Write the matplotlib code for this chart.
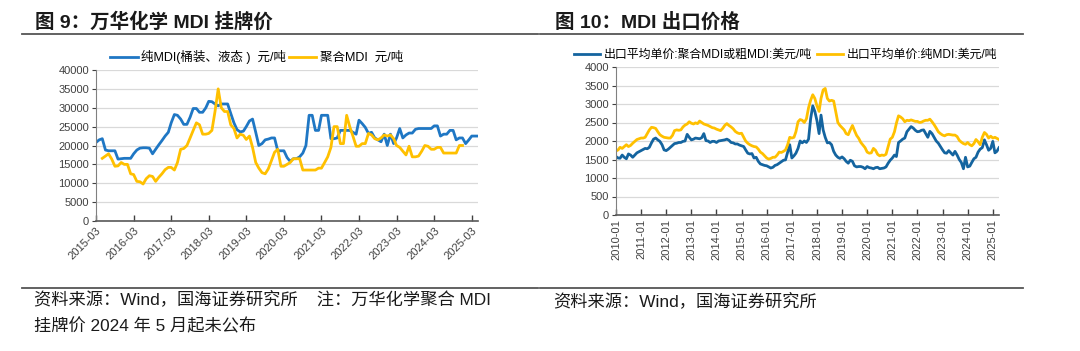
import matplotlib
matplotlib.use("Agg")
import matplotlib.pyplot as plt
from matplotlib.lines import Line2D
import numpy as np
import pandas as pd

plt.rcParams['font.family'] = ['Liberation Sans', 'Noto Sans CJK SC']
plt.rcParams['axes.unicode_minus'] = False

# 图9: 万华化学 MDI 挂牌价 (千元/吨), 月度
pure_start = "2015-03"
pure_mdi = [20.8, 21.5, 21.8, 18.8, 18.6, 18.6, 18.6, 16.4, 16.5, 16.6, 16.6, 16.6,
            17.8, 18.8, 19.3, 19.4, 19.4, 19.3, 17.8, 19.0, 20.2, 21.3, 22.5, 23.5,
            26.0, 28.2, 28.0, 27.0, 25.6, 25.6, 27.5, 29.8, 29.8, 28.8, 28.8, 30.0,
            31.7, 31.6, 31.0, 30.5, 31.0, 31.0, 31.0, 28.5, 26.0, 24.2, 23.6, 23.8,
            25.0, 26.5, 27.0, 23.5, 20.0, 20.5, 21.5, 21.7, 22.0, 22.0, 18.6, 18.6,
            18.6, 16.8, 15.8, 16.5, 16.5, 17.0, 18.0, 20.0, 28.0, 28.0, 24.0, 24.0,
            28.0, 28.0, 28.0, 21.8, 21.8, 22.0, 24.0, 24.0, 24.0, 24.0, 23.5, 23.0,
            26.7, 25.8, 24.8, 23.2, 23.5, 22.0, 21.5, 21.0, 23.0, 20.0, 23.0, 20.5,
            22.0, 24.5, 22.0, 22.8, 23.3, 23.3, 24.3, 24.5, 24.5, 24.5, 24.5, 24.5,
            25.2, 25.2, 22.5, 23.0, 23.0, 24.0, 24.0, 21.5, 22.0, 22.0, 20.5, 21.5,
            22.5, 22.5, 22.5]
poly_start = "2015-05"
poly_mdi = [16.6, 17.2, 17.8, 16.4, 14.5, 14.6, 15.5, 15.0, 15.0, 12.5,
            12.3, 10.5, 10.4, 9.8, 11.2, 12.0, 11.8, 10.5, 11.6, 12.5, 13.6, 14.2,
            14.2, 13.5, 15.5, 19.0, 19.2, 20.0, 22.0, 24.0, 26.0, 25.5, 23.0, 23.0,
            23.2, 24.0, 29.0, 35.0, 30.0, 29.0, 29.0, 25.5, 24.5, 22.0, 23.0, 22.7,
            21.6, 22.5, 19.5, 15.5, 14.0, 12.8, 12.5, 13.8, 16.0, 18.2, 19.0, 14.5,
            14.5, 15.0, 15.5, 16.5, 16.5, 16.5, 13.5, 13.5, 13.5, 13.5, 13.5, 14.0,
            14.0, 15.5, 17.0, 19.5, 25.0, 25.0, 20.5, 20.5, 28.0, 25.0, 22.5, 19.8,
            19.8, 20.5, 20.5, 23.2, 22.8, 21.8, 21.5, 22.0, 22.8, 22.5, 22.8, 21.8,
            20.0, 19.5, 18.5, 17.5, 19.8, 17.0, 17.0, 17.2, 18.5, 20.0, 19.8, 19.0,
            19.0, 19.5, 19.5, 18.0, 18.0, 18.0, 18.0, 18.0, 20.0, 20.0]
left_labels = ["纯MDI(桶装、液态 )  元/吨", "聚合MDI  元/吨"]

# 图10: MDI 出口价格 (美元/吨), 月度
exp_start = "2010-01"
exp_poly = [1580, 1540, 1535, 1620, 1560, 1520, 1650, 1620, 1560, 1620, 1680, 1710,
            1740, 1770, 1800, 1790, 1830, 1950, 2050, 2080, 2030, 1990, 1900, 1760,
            1740, 1780, 1830, 1880, 1930, 1940, 1960, 1960, 1990, 2000, 2180, 2100,
            2030, 2050, 2080, 2070, 2060, 2090, 2200, 2010, 2000, 1960, 1990, 1990,
            1960, 2000, 2010, 2020, 2030, 2050, 2020, 1960, 1950, 1920, 1920, 1890,
            1870, 1850, 1760, 1670, 1650, 1660, 1540, 1560, 1450, 1380, 1360, 1340,
            1330, 1300, 1270, 1290, 1340, 1360, 1400, 1440, 1480, 1490, 1700, 1900,
            1540, 1600, 1670, 1800, 2000, 1950, 2000, 1960, 2050, 2600, 2950, 2800,
            2550, 2200, 2700, 2300, 2100, 1950, 1960, 1900, 1720, 1620, 1560, 1530,
            1570, 1520, 1450, 1400, 1480, 1450, 1330, 1300, 1310, 1310, 1290, 1250,
            1310, 1280, 1270, 1250, 1280, 1290, 1250, 1260, 1270, 1300, 1400, 1480,
            1540, 1620, 1580, 1960, 2000, 2050, 2080, 2250, 2320, 2390, 2350, 2290,
            2250, 2260, 2290, 2300, 2200, 2100, 2260, 2200, 2100, 2000, 1940, 1850,
            1760, 1680, 1670, 1740, 1680, 1620, 1720, 1620, 1500, 1420, 1250, 1560,
            1300, 1320, 1420, 1520, 1560, 1700, 1780, 1820, 2030, 1900, 1750, 1800,
            1990, 1680, 1720, 1820]
exp_pure = [1730, 1760, 1830, 1800, 1850, 1900, 1850, 1880, 1940, 1990, 2040, 2060,
            2080, 2080, 2100, 2200, 2300, 2370, 2360, 2340, 2250, 2170, 2130, 2100,
            2090, 2080, 2080, 2150, 2280, 2300, 2290, 2300, 2380, 2430, 2460, 2520,
            2480, 2460, 2490, 2470, 2540, 2500, 2460, 2440, 2420, 2390, 2360, 2350,
            2320, 2300, 2280, 2340, 2420, 2470, 2420, 2380, 2330, 2260, 2220, 2200,
            2210, 2100, 2000, 1940, 1900, 1870, 1850, 1840, 1780, 1700, 1660, 1600,
            1540, 1510, 1530, 1560, 1560, 1620, 1700, 1690, 1720, 1760, 1900, 2100,
            2080, 2100, 2250, 2520, 2580, 2560, 2500, 2600, 2900, 3100, 3250, 3150,
            2950, 2800, 3150, 3380, 3420, 3150, 3080, 3100, 3080, 2800, 2500, 2420,
            2360, 2300, 2200, 2170, 2300, 2420, 2280, 2150, 2070, 1960, 1890, 1820,
            1700, 1670, 1680, 1800, 1750, 1640, 1600, 1620, 1610, 1640, 1850, 2050,
            2100, 2250, 2480, 2680, 2650, 2600, 2520, 2560, 2550, 2570, 2550, 2530,
            2530, 2500, 2510, 2540, 2560, 2560, 2590, 2520, 2440, 2350, 2250, 2200,
            2160, 2140, 2170, 2180, 2170, 2160, 2160, 2120, 2020, 1970, 1930, 1910,
            1960, 1900, 1870, 1930, 2040, 1980, 1900, 2100, 2230, 2180, 2080, 2130,
            2080, 2100, 2070, 2040]
right_labels = ["出口平均单价:聚合MDI或粗MDI:美元/吨", "出口平均单价:纯MDI:美元/吨"]

blue_l = "#1f77c4"
blue_r = "#14649f"
yellow = "#ffc000"
grid_c = "#d9d9d9"
txt_c = "#404040"

W, H = 1080, 351
fig = plt.figure(figsize=(W / 100, H / 100), dpi=100)


def fx(px):
    return px / W


def fy(py):
    return 1 - py / H


def style_axes(ax):
    ax.spines['top'].set_visible(False)
    ax.spines['right'].set_visible(False)
    ax.spines['left'].set_color("#808080")
    ax.spines['bottom'].set_color("#595959")
    ax.spines['bottom'].set_linewidth(1.2)
    ax.grid(axis='y', color=grid_c, lw=0.9)
    ax.set_axisbelow(True)
    ax.tick_params(axis='y', labelsize=8, colors=txt_c, length=3, width=0.8, pad=2)
    ax.tick_params(axis='x', labelsize=8, colors=txt_c, direction='in', length=4, width=1, pad=3)


# ---------- 左图 ----------
ax1 = fig.add_axes([fx(96), fy(221), fx(478 - 96), (221 - 70) / H])
d_pure = pd.date_range(pure_start, periods=len(pure_mdi), freq="MS")
d_poly = pd.date_range(poly_start, periods=len(poly_mdi), freq="MS")
ax1.plot(d_pure, np.array(pure_mdi) * 1000, color=blue_l, lw=2, label=left_labels[0])
ax1.plot(d_poly, np.array(poly_mdi) * 1000, color=yellow, lw=2, label=left_labels[1])
ax1.set_ylim(0, 40000)
ax1.set_yticks(np.arange(0, 40001, 5000))
ax1.set_xlim(d_pure[0], d_pure[-1])
t1 = pd.date_range("2015-03", "2025-03", freq="12MS")
ax1.set_xticks(t1)
ax1.set_xticklabels([t.strftime("%Y-%m") for t in t1], rotation=45, ha='right',
                    rotation_mode='anchor')
style_axes(ax1)
ax1.legend(loc='center left', bbox_to_anchor=(fx(110), fy(57)), bbox_transform=fig.transFigure,
           ncol=2, frameon=False, fontsize=9, handlelength=2.2, handletextpad=0.3,
           columnspacing=0.2, borderaxespad=0, borderpad=0)

# ---------- 右图 ----------
ax2 = fig.add_axes([fx(616), fy(215), fx(999 - 616), (215 - 67) / H])
d_exp = pd.date_range(exp_start, periods=len(exp_poly), freq="MS")
ax2.plot(d_exp, exp_poly, color=blue_r, lw=2, label=right_labels[0])
ax2.plot(d_exp, exp_pure, color=yellow, lw=2, label=right_labels[1])
ax2.set_ylim(0, 4000)
ax2.set_yticks(np.arange(0, 4001, 500))
ax2.set_xlim(d_exp[0], d_exp[-1])
t2 = pd.date_range("2010-01", "2025-01", freq="12MS")
ax2.set_xticks(t2)
ax2.set_xticklabels([t.strftime("%Y-%m") for t in t2], rotation=90)
style_axes(ax2)
ax2.legend(loc='center left', bbox_to_anchor=(fx(574), fy(55)), bbox_transform=fig.transFigure,
           ncol=2, frameon=False, fontsize=8.6, handlelength=2.2, handletextpad=0.3,
           columnspacing=0.4, borderaxespad=0, borderpad=0)

# ---------- 标题、分隔线、来源 ----------
fig.text(fx(35), fy(22), "图 9：万华化学 MDI 挂牌价", fontsize=14, fontweight='bold',
         va='center', ha='left', color="#1a1a1a")
fig.text(fx(555), fy(22), "图 10：MDI 出口价格", fontsize=14, fontweight='bold',
         va='center', ha='left', color="#1a1a1a")
for y in (34, 288):
    fig.add_artist(Line2D([fx(22), fx(538)], [fy(y), fy(y)], color="#555555", lw=1.3))
    fig.add_artist(Line2D([fx(540), fx(1023)], [fy(y), fy(y)], color="#555555", lw=1.3))

fig.text(fx(34), fy(300), "资料来源：Wind，国海证券研究所    注：万华化学聚合 MDI",
         fontsize=12.4, va='center', ha='left', color="#1a1a1a")
fig.text(fx(34), fy(326), "挂牌价 2024 年 5 月起未公布",
         fontsize=12.4, va='center', ha='left', color="#1a1a1a")
fig.text(fx(553), fy(302), "资料来源：Wind，国海证券研究所",
         fontsize=12.4, va='center', ha='left', color="#1a1a1a")

fig.savefig("out.png", dpi=100)
